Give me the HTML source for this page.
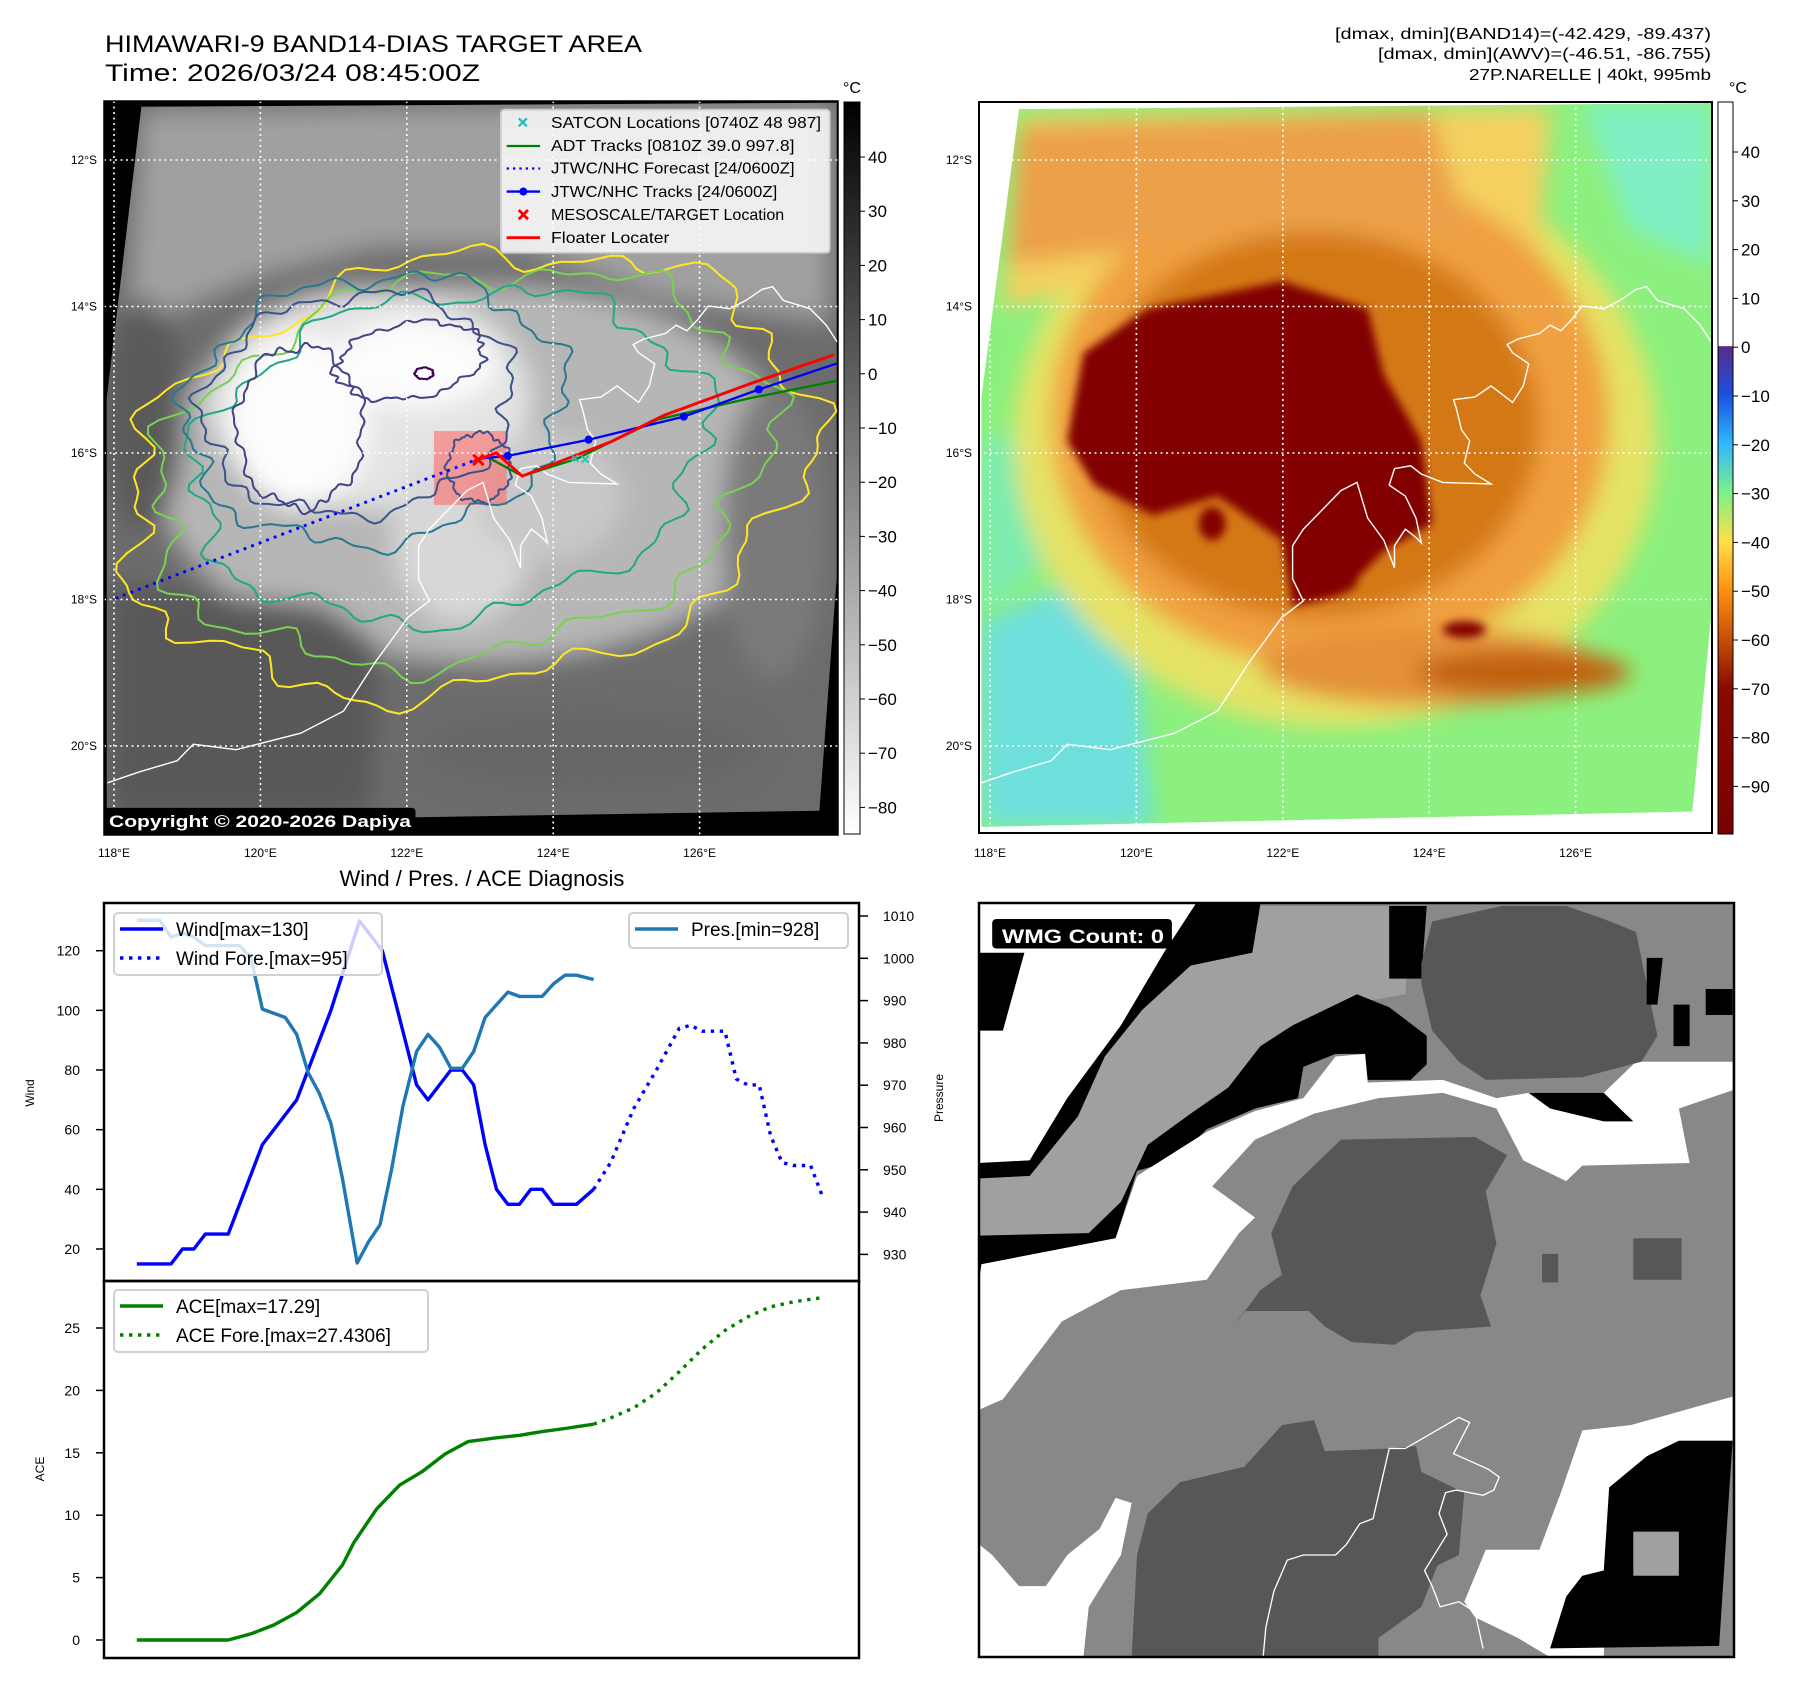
<!DOCTYPE html>
<html><head><meta charset="utf-8">
<style>
html,body{margin:0;padding:0;background:#fff;}
svg{display:block;font-family:"Liberation Sans","DejaVu Sans",sans-serif;}
</style></head>
<body>
<svg id="root" width="1797" height="1690" viewBox="0 0 1797 1690" xmlns="http://www.w3.org/2000/svg">
<defs>
  <filter id="blurL" x="-20%" y="-20%" width="140%" height="140%"><feGaussianBlur stdDeviation="22"/></filter>
  <filter id="blurR" x="-20%" y="-20%" width="140%" height="140%"><feGaussianBlur stdDeviation="20"/></filter>
  <filter id="blurS" x="-20%" y="-20%" width="140%" height="140%"><feGaussianBlur stdDeviation="8"/></filter>
  <clipPath id="clipL"><rect x="180" y="175" width="1272" height="1272"/></clipPath>
  <clipPath id="clipLimg"><polygon points="245,185 1450,178 1450,1000 1420,1405 185,1425 185,690"/></clipPath>
  <clipPath id="clipR"><rect x="36" y="185" width="1364" height="1326"/></clipPath>
  <clipPath id="clipRimg"><polygon points="110,198 1400,187 1400,1120 1365,1472 40,1500 40,720"/></clipPath>
  <clipPath id="clipBR"><rect x="36" y="45" width="1406" height="1452"/></clipPath>
  <clipPath id="clipLcoast"><rect x="104" y="101" width="734" height="734"/></clipPath>
  <linearGradient id="cbGray" x1="0" y1="0" x2="0" y2="1">
    <stop offset="0" stop-color="#000"/><stop offset="1" stop-color="#fff"/>
  </linearGradient>
  <linearGradient id="cbColor" x1="0" y1="0" x2="0" y2="1">
    <stop offset="0" stop-color="#ffffff"/>
    <stop offset="0.333" stop-color="#ffffff"/>
    <stop offset="0.334" stop-color="#5a2a8a"/>
    <stop offset="0.40" stop-color="#1a50e0"/>
    <stop offset="0.467" stop-color="#30b8ff"/>
    <stop offset="0.533" stop-color="#7cf08a"/>
    <stop offset="0.60" stop-color="#ffe048"/>
    <stop offset="0.667" stop-color="#ff9010"/>
    <stop offset="0.733" stop-color="#c85008"/>
    <stop offset="0.80" stop-color="#8a0a00"/>
    <stop offset="1" stop-color="#7a0000"/>
  </linearGradient>
</defs>

<!-- ============ TITLES ============ -->
<text x="105" y="52" font-size="24" fill="#000" textLength="537" lengthAdjust="spacingAndGlyphs">HIMAWARI-9 BAND14-DIAS TARGET AREA</text>
<text x="105" y="81" font-size="24" fill="#000" textLength="375" lengthAdjust="spacingAndGlyphs">Time: 2026/03/24 08:45:00Z</text>
<g font-size="16" fill="#000" text-anchor="end">
  <text x="1711" y="39" textLength="376" lengthAdjust="spacingAndGlyphs">[dmax, dmin](BAND14)=(-42.429, -89.437)</text>
  <text x="1711" y="59" textLength="333" lengthAdjust="spacingAndGlyphs">[dmax, dmin](AWV)=(-46.51, -86.755)</text>
  <text x="1711" y="80" textLength="242" lengthAdjust="spacingAndGlyphs">27P.NARELLE | 40kt, 995mb</text>
</g>

<!-- ============ LEFT MAP (zoom1 coords) ============ -->
<g id="leftMap" transform="scale(0.57703)">
  <g clip-path="url(#clipL)">
    <rect x="180" y="175" width="1272" height="1272" fill="#000"/>
    <polygon points="245,185 1450,178 1450,1000 1420,1405 185,1425 185,690" fill="#6c6c6c"/>
    <g clip-path="url(#clipLimg)">
    <g filter="url(#blurL)">
      <polygon points="245,190 1440,182 1440,560 1150,520 900,430 650,430 450,480 260,560 215,640" fill="#a0a0a0"/>
      <ellipse cx="830" cy="820" rx="560" ry="330" fill="#b6b6b6"/>
      <ellipse cx="250" cy="720" rx="70" ry="200" fill="#5a5a5a"/>
      <polygon points="190,1010 560,1050 660,1120 640,1410 190,1420" fill="#585858"/>
      <ellipse cx="1020" cy="1300" rx="300" ry="70" fill="#666"/>
      <ellipse cx="1340" cy="920" rx="90" ry="260" fill="#7a7a7a"/>
      <ellipse cx="640" cy="690" rx="280" ry="190" fill="#e4e4e4"/>
      <ellipse cx="800" cy="930" rx="120" ry="150" fill="#d8d8d8"/>
      <ellipse cx="950" cy="860" rx="130" ry="110" fill="#c8c8c8"/>
      <ellipse cx="520" cy="730" rx="120" ry="150" fill="#fdfdfd"/>
      <ellipse cx="720" cy="630" rx="140" ry="75" fill="#fdfdfd"/>
    </g>
    </g>
    <polygon points="752,747 878,747 878,875 752,875" fill="#ff6a6a" fill-opacity="0.6"/>
    <g id="contoursL" fill="none" stroke-width="3.5"></g>
  </g>
</g>
<g id="coastL" clip-path="url(#clipLcoast)"></g>
<g id="gridL"></g>
<g transform="scale(0.57703)">
  <g clip-path="url(#clipL)">
    <polyline points="200,1037 830,795" fill="none" stroke="#0000ff" stroke-width="5" stroke-dasharray="5 9"/>
    <polyline points="850,795 905,825 1000,795 1050,770 1140,727 1300,690 1450,660" fill="none" stroke="#008000" stroke-width="4"/>
    <polyline points="830,795 880,790 1020,762 1185,722 1315,675 1450,630" fill="none" stroke="#0000ff" stroke-width="4"/>
    <g fill="#0000ff"><circle cx="880" cy="790" r="7"/><circle cx="1020" cy="762" r="7"/><circle cx="1185" cy="722" r="7"/><circle cx="1315" cy="675" r="7"/></g>
    <polyline points="820,800 860,785 905,825 1060,765 1150,720 1300,665 1445,615" fill="none" stroke="#ff0000" stroke-width="5"/>
    <g stroke="#20c0c0" stroke-width="3"><path d="M990,788 l12,12 M1002,788 l-12,12 M1008,790 l12,12 M1020,790 l-12,12"/></g>
    <path d="M820,788 l18,18 M838,788 l-18,18" stroke="#ff0000" stroke-width="5"/>
    <rect x="180" y="1400" width="540" height="47" fill="#000" rx="6"/>
  </g>
  <g>
    <rect x="868" y="190" width="570" height="248" fill="#ffffff" fill-opacity="0.82" stroke="#cccccc" stroke-width="3" rx="6"/>
    <path d="M899,205 l14,14 M913,205 l-14,14" stroke="#20c0c0" stroke-width="4"/>
    <line x1="878" y1="253" x2="936" y2="253" stroke="#008000" stroke-width="4"/>
    <line x1="878" y1="292" x2="936" y2="292" stroke="#0000ff" stroke-width="4" stroke-dasharray="4 7"/>
    <line x1="878" y1="332" x2="936" y2="332" stroke="#0000ff" stroke-width="4"/><circle cx="907" cy="332" r="7" fill="#0000ff"/>
    <path d="M899,364 l16,16 M915,364 l-16,16" stroke="#ff0000" stroke-width="5"/>
    <line x1="878" y1="412" x2="936" y2="412" stroke="#ff0000" stroke-width="5"/>
    <g font-size="27" fill="#000">
      <text x="955" y="222" textLength="468" lengthAdjust="spacingAndGlyphs">SATCON Locations [0740Z 48 987]</text>
      <text x="955" y="262" textLength="422" lengthAdjust="spacingAndGlyphs">ADT Tracks [0810Z 39.0 997.8]</text>
      <text x="955" y="301" textLength="422" lengthAdjust="spacingAndGlyphs">JTWC/NHC Forecast [24/0600Z]</text>
      <text x="955" y="341" textLength="392" lengthAdjust="spacingAndGlyphs">JTWC/NHC Tracks [24/0600Z]</text>
      <text x="955" y="381" textLength="404" lengthAdjust="spacingAndGlyphs">MESOSCALE/TARGET Location</text>
      <text x="955" y="421" textLength="205" lengthAdjust="spacingAndGlyphs">Floater Locater</text>
    </g>
  </g>
</g>
<text x="109" y="827" font-size="17" font-weight="bold" fill="#fff" textLength="302" lengthAdjust="spacingAndGlyphs">Copyright © 2020-2026 Dapiya</text>
<rect x="104" y="101" width="734" height="734" fill="none" stroke="#000" stroke-width="1.5"/>
<rect x="844" y="102" width="16" height="732" fill="url(#cbGray)" stroke="#000" stroke-width="1"/>
<text x="852" y="93" font-size="16" text-anchor="middle">°C</text>
<g id="cbLticks" font-size="17"></g>

<!-- ============ RIGHT MAP (zoom3 coords) ============ -->
<g transform="translate(960,0) scale(0.53648,0.55127)">
  <g clip-path="url(#clipR)">
    <rect x="36" y="185" width="1364" height="1326" fill="#fff"/>
    <polygon points="110,198 1400,187 1400,1120 1365,1472 40,1500 40,720" fill="#8cf07e"/>
    <g clip-path="url(#clipRimg)">
    <g filter="url(#blurR)">
      <polygon points="40,1130 200,1060 330,1200 360,1500 40,1500" fill="#6ee0dc"/>
      <polygon points="40,800 120,780 180,1000 60,1100 40,1100" fill="#7cecb0"/>
      <polygon points="1160,190 1400,190 1400,480 1250,420" fill="#80f0c4"/>
      <ellipse cx="700" cy="800" rx="600" ry="520" fill="#f4e060" fill-opacity="0.85"/>
      <polygon points="110,210 1100,195 1080,480 600,430 80,560" fill="#f4d060"/>
      <ellipse cx="690" cy="760" rx="520" ry="450" fill="#f0a040"/>
      <polygon points="110,230 880,205 950,430 600,420 90,480" fill="#eca048"/>
      <ellipse cx="880" cy="1210" rx="320" ry="70" fill="#e49038"/>
      <ellipse cx="660" cy="770" rx="420" ry="350" fill="#d47818"/>
      <ellipse cx="1050" cy="1220" rx="200" ry="40" fill="#c06010"/>
    </g>
    <g filter="url(#blurS)" fill="#820000">
      <polygon points="230,640 350,560 600,510 760,560 790,680 860,800 880,950 790,1000 710,1080 620,1100 600,980 480,900 360,935 250,880 200,800"/>
      <ellipse cx="940" cy="1142" rx="40" ry="15"/>
      <ellipse cx="710" cy="1055" rx="30" ry="20"/>
      <ellipse cx="470" cy="950" rx="25" ry="30"/>
    </g>
    </g>
  </g>
</g>
<g id="coastR"></g>
<g id="gridR"></g>
<rect x="979" y="102" width="733" height="731" fill="none" stroke="#000" stroke-width="2"/>
<rect x="1718" y="102" width="15" height="732" fill="url(#cbColor)" stroke="#000" stroke-width="1"/>
<text x="1738" y="93" font-size="16" text-anchor="middle">°C</text>
<g id="cbRticks" font-size="17"></g>

<!-- ============ BOTTOM RIGHT (zoom4 coords) ============ -->
<g transform="translate(960,880) scale(0.53648,0.51921)">
  <g clip-path="url(#clipBR)">
    <rect x="36" y="45" width="1406" height="1452" fill="#888888"/>
    <polygon points="36,45 440,45 380,140 300,280 200,420 130,540 36,545" fill="#fff"/>
    <polygon points="36,140 120,140 80,290 36,290" fill="#000"/>
    <polygon points="36,545 130,540 200,420 300,280 380,140 440,45 560,45 545,140 430,165 340,250 270,340 220,455 130,570 36,575" fill="#000"/>
    <polygon points="36,575 130,570 220,455 270,340 340,250 430,165 545,140 560,50 840,50 830,220 720,240 620,280 560,320 500,400 430,450 350,510 300,620 240,680 36,685" fill="#a0a0a0"/>
    <polygon points="36,685 240,680 300,620 350,510 430,450 500,400 560,320 620,280 740,220 800,245 870,300 870,355 840,385 760,385 755,335 700,335 640,360 630,420 550,440 460,480 400,540 330,560 290,690 40,740 36,770" fill="#000"/>
    <polygon points="36,770 40,740 290,690 330,570 460,485 550,445 640,420 700,340 755,335 760,390 900,385 1000,420 1060,410 1200,410 1260,350 1440,350 1440,405 1340,440 1360,545 1160,550 1130,580 1050,540 1000,440 900,410 780,420 660,450 550,500 470,590 550,650 520,680 460,770 300,790 190,850 80,1000 36,1020" fill="#fff"/>
    <polygon points="1060,410 1200,410 1230,440 1255,465 1200,465 1100,440" fill="#000"/>
    <polygon points="800,50 870,50 860,190 800,190" fill="#000"/>
    <polygon points="880,80 1010,50 1130,50 1200,75 1260,100 1300,300 1270,350 1160,380 980,385 930,350 880,290 860,200 860,160" fill="#575757"/>
    <polygon points="1280,150 1310,150 1300,240 1280,240" fill="#000"/>
    <polygon points="1390,210 1440,210 1440,260 1390,260" fill="#000"/>
    <polygon points="1330,240 1360,240 1360,320 1330,320" fill="#000"/>
    <polygon points="710,500 960,495 1020,530 980,600 1000,700 970,800 990,860 850,870 810,895 730,890 680,860 650,830 530,830 510,860 560,790 600,760 580,680 620,590 650,560 680,530" fill="#575757"/>
    <polygon points="1255,690 1345,690 1345,770 1255,770" fill="#575757"/>
    <polygon points="1085,720 1115,720 1115,775 1085,775" fill="#575757"/>
    <polygon points="410,1160 530,1130 600,1050 660,1040 680,1100 800,1095 850,1090 860,1140 940,1180 930,1300 890,1320 860,1400 780,1460 780,1497 320,1497 330,1300 350,1220" fill="#575757"/>
    <polygon points="36,1280 60,1300 110,1360 160,1360 200,1300 260,1250 290,1190 320,1200 300,1300 240,1400 230,1497 36,1497" fill="#fff"/>
    <polygon points="1440,995 1250,1050 1160,1060 1120,1180 1080,1290 980,1290 940,1390 960,1420 1040,1460 1100,1497 1200,1497 1210,1170 1280,1110 1340,1080 1440,1080" fill="#fff"/>
    <polygon points="1210,1170 1280,1110 1340,1080 1440,1080 1415,1475 1100,1480 1130,1380 1160,1340 1200,1330" fill="#000"/>
    <polygon points="1255,1255 1340,1255 1340,1340 1255,1340" fill="#a0a0a0"/>
    <path d="M565,1497 570,1440 585,1370 610,1310 640,1300 700,1300 720,1280 745,1240 770,1230 800,1095 830,1095 930,1035 950,1045 920,1105 985,1135 1005,1150 995,1175 975,1185 925,1175 905,1180 893,1220 908,1260 866,1330 880,1360 895,1400 930,1390 960,1410 975,1480" fill="none" stroke="#fff" stroke-width="2.5"/>
    <rect x="60" y="75" width="335" height="57" rx="8" fill="#000"/>
  </g>
</g>
<text x="1002" y="943" font-size="19" font-weight="bold" fill="#fff" textLength="162" lengthAdjust="spacingAndGlyphs">WMG Count: 0</text>
<rect x="979" y="903" width="755" height="754" fill="none" stroke="#000" stroke-width="2.5"/>

<!-- ============ CHARTS ============ -->
<text x="482" y="886" font-size="22" text-anchor="middle">Wind / Pres. / ACE Diagnosis</text>
<g id="charts"></g>
</svg>

<script>
const windT = [0,3,4,5,6,8,11,14,15,17,19.5,21.5,23.5,24.5,25.5,27.5,28.5,29.5,30.5,31.5,32.5,33.5,34.5,35.5,36.5,38.5,40];
const windV = [15,15,20,20,25,25,55,70,80,100,130,120,90,75,70,80,80,75,55,40,35,35,40,40,35,35,40];
const windForeT = [40,41.5,43.5,45.5,47.5,48.5,49.5,51.5,52.5,53.5,54.5,55.5,56.5,57.5,59,60];
const windForeV = [40,49,67,80,94,95,93,93,77,75,75,58,49,48,48,38];
const presT = [0,2,3,4,5,6,9,10,11,13,14,15,16,17,18,19.3,20.3,21.3,22.3,23.3,24.5,25.5,26.5,27.5,28.5,29.5,30.5,31.5,32.5,33.5,35.5,36.5,37.5,38.5,40];
const presV = [1009,1009,1005,1006,1005,1003,1003,1000,988,986,982,973,968,961,948,928,933,937,950,965,978,982,979,974,974,978,986,989,992,991,991,994,996,996,995];
const aceT = [0,8,10,12,14,16,18,19,21,23,25,27,29,31.5,33.5,35.5,37.5,40];
const aceV = [0,0,0.5,1.2,2.2,3.7,6,7.8,10.5,12.4,13.5,14.9,15.9,16.2,16.4,16.7,16.95,17.29];
const aceForeT = [40,41.5,43.5,45.5,47.5,49.5,51.5,53.5,55.5,57.5,60];
const aceForeV = [17.29,17.8,18.6,19.8,21.5,23.3,24.8,25.9,26.7,27.1,27.43];
const windTicks = [20,40,60,80,100,120];
const presTicks = [930,940,950,960,970,980,990,1000,1010];
const aceTicks = [0,5,10,15,20,25];
const cbLTicks = [40,30,20,10,0,-10,-20,-30,-40,-50,-60,-70,-80];
const cbRTicks = [40,30,20,10,0,-10,-20,-30,-40,-50,-60,-70,-80,-90];
const latLabels = ["12°S","14°S","16°S","18°S","20°S"];
const lonLabels = ["118°E","120°E","122°E","124°E","126°E"];

const NS = "http://www.w3.org/2000/svg";
function mk(tag, attrs, parent){ const e=document.createElementNS(NS,tag); for(const k in attrs) e.setAttribute(k,attrs[k]); if(parent) parent.appendChild(e); return e; }

const xT = t => 136.8 + t*11.42;
const yWind = v => 950.7 + (120 - v)*2.983;
const yPres = p => 916 + (1010 - p)*4.23;
const yAce = a => 1640 - a*12.48;

const charts = document.getElementById('charts');
function line(ts, vs, yf, color, dash, name){
  const pts = ts.map((t,i)=> xT(t).toFixed(1)+','+yf(vs[i]).toFixed(1)).join(' ');
  const p = mk('polyline',{points:pts,fill:'none',stroke:color,'stroke-width':3.4,'stroke-linejoin':'round'},charts);
  if(dash) p.setAttribute('stroke-dasharray',dash);
  
  
}
const f1 = mk('rect',{x:104,y:903,width:755,height:378,fill:'none',stroke:'#000','stroke-width':2.5},charts);


const f2 = mk('rect',{x:104,y:1281,width:755,height:377,fill:'none',stroke:'#000','stroke-width':2.5},charts);



line(windT, windV, yWind, '#0000ff', null, 'wind-line');
line(windForeT, windForeV, yWind, '#0000ff', '3.4 5.6', 'wind-forecast-line');
line(presT, presV, yPres, '#1f77b4', null, 'pressure-line');
line(aceT, aceV, yAce, '#008000', null, 'ace-line');
line(aceForeT, aceForeV, yAce, '#008000', '3.4 5.6', 'ace-forecast-line');

function tickY(vals, yf, side, name){
  vals.forEach(v=>{
    const y = yf(v);
    if(side==='L'){
      mk('line',{x1:96,y1:y,x2:104,y2:y,stroke:'#000','stroke-width':1.5},charts);
      const t = mk('text',{x:80,y:y+5,'font-size':14,'text-anchor':'end'},charts);
      t.textContent = v;
      
      
    } else {
      mk('line',{x1:859,y1:y,x2:868,y2:y,stroke:'#000','stroke-width':1.5},charts);
      const t = mk('text',{x:883,y:y+5,'font-size':14},charts);
      t.textContent = v;
      
      
    }
  });
}
tickY(windTicks, yWind, 'L', 'wind-tick-label');
tickY(presTicks, yPres, 'R', 'pressure-tick-label');
tickY(aceTicks, yAce, 'L', 'ace-tick-label');

function rotLabel(txt,x,y,name){
  const t = mk('text',{x:x,y:y,'font-size':12,'text-anchor':'middle',transform:`rotate(-90 ${x} ${y})`},charts);
  t.textContent = txt;
  
  
}
rotLabel('Wind',34,1093,'wind-axis-title');
rotLabel('Pressure',943,1098,'pressure-axis-title');
rotLabel('ACE',44,1469,'ace-axis-title');

function legend(x,y,w,h,entries,name){
  const g = mk('g',{},charts);
  
  
  mk('rect',{x:x,y:y,width:w,height:h,rx:4,fill:'#fff','fill-opacity':0.8,stroke:'#d0d0d0','stroke-width':2},g);
  entries.forEach(e=>{
    const l = mk('line',{x1:e.hx,y1:e.y,x2:e.hx+43,y2:e.y,stroke:e.c,'stroke-width':3.4},g);
    if(e.dash) l.setAttribute('stroke-dasharray',e.dash);
    const t = mk('text',{x:e.tx,y:e.y+7,'font-size':19},g);
    t.textContent = e.txt;
  });
}
legend(114,913,268,62,[{hx:120,y:929,c:'#0000ff',tx:176,txt:'Wind[max=130]'},{hx:120,y:958,c:'#0000ff',dash:'3.4 5.6',tx:176,txt:'Wind Fore.[max=95]'}],'wind-legend');
legend(629,913,219,35,[{hx:635,y:929,c:'#1f77b4',tx:691,txt:'Pres.[min=928]'}],'pressure-legend');
legend(114,1290,314,62,[{hx:120,y:1306,c:'#008000',tx:176,txt:'ACE[max=17.29]'},{hx:120,y:1335,c:'#008000',dash:'3.4 5.6',tx:176,txt:'ACE Fore.[max=27.4306]'}],'ace-legend');

const cbL = document.getElementById('cbLticks');
cbLTicks.forEach(v=>{
  const y = 157 + (40 - v)*5.42;
  mk('line',{x1:860,y1:y,x2:865,y2:y,stroke:'#000','stroke-width':1},cbL);
  const t = mk('text',{x:868,y:y+6},cbL);
  t.textContent = v<0 ? '\u2212'+(-v) : v;
  
  
});
const cbR = document.getElementById('cbRticks');
cbRTicks.forEach(v=>{
  const y = 152 + (40 - v)*4.88;
  mk('line',{x1:1733,y1:y,x2:1738,y2:y,stroke:'#000','stroke-width':1},cbR);
  const t = mk('text',{x:1741,y:y+6},cbR);
  t.textContent = v<0 ? '\u2212'+(-v) : v;
  
  
});

function grid(gid, x0, y0, x1, y1, lonStart, name){
  const g = document.getElementById(gid);
  for(let i=0;i<5;i++){
    const x = lonStart + i*146.4;
    const y = 160 + i*146.5;
    if(x>x0 && x<x1) mk('line',{x1:x,y1:y0,x2:x,y2:y1,stroke:'#fff','stroke-width':1.6,'stroke-dasharray':'2 3.5'},g);
    mk('line',{x1:x0,y1:y,x2:x1,y2:y,stroke:'#fff','stroke-width':1.6,'stroke-dasharray':'2 3.5'},g);
    const lt = mk('text',{x:x0-7,y:y+4,'font-size':12,'text-anchor':'end'},g);
    lt.textContent = latLabels[i];
    
    
    const ot = mk('text',{x:x,y:857,'font-size':12,'text-anchor':'middle'},g);
    ot.textContent = lonLabels[i];
    
    
  }
}
grid('gridL',104,101,838,835,114,'left-map');
grid('gridR',979,102,1712,833,990,'right-map');

const coastZ = [[40,1420],[100,1400],[170,1380],[200,1350],[280,1360],[400,1330],[480,1290],[540,1200],[570,1160],[600,1120],[640,1090],[620,1050],[620,990],[640,960],[680,920],[710,890],[740,875],[760,940],[790,980],[810,1030],[810,990],[830,960],[850,975],[860,985],[850,940],[830,900],[800,880],[810,850],[840,845],[860,860],[900,875],[990,878],[960,860],[940,840],[950,800],[935,780],[925,740],[920,725],[960,720],[990,700],[1030,730],[1050,700],[1060,660],[1030,640],[1020,625],[1040,615],[1080,605],[1100,590],[1120,600],[1140,580],[1160,555],[1200,560],[1230,545],[1260,525],[1280,520],[1300,545],[1350,560],[1380,590],[1400,620]];
function coast(gid, dx, name){
  const d = coastZ.map((p,i)=>(i?'L':'M')+(960+p[0]/1.864+dx).toFixed(1)+','+(p[1]/1.814).toFixed(1)).join(' ');
  const p = mk('path',{d:d,fill:'none',stroke:'#fff','stroke-width':1.4},document.getElementById(gid));
  
  
}
coast('coastL',-874,'left-coastline');
coast('coastR',0,'right-coastline');

const contours = [
  {cx:810,cy:820,rx:600,ry:370,rot:-12,c:'#fde725',ph:0.3},
  {cx:800,cy:810,rx:540,ry:330,rot:-12,c:'#7ad151',ph:1.1},
  {cx:780,cy:790,rx:450,ry:280,rot:-10,c:'#22a884',ph:2.0},
  {cx:650,cy:710,rx:330,ry:230,rot:-8,c:'#2a788e',ph:2.7},
  {cx:620,cy:700,rx:270,ry:190,rot:-8,c:'#3b528b',ph:3.3},
  {cx:520,cy:740,rx:110,ry:140,rot:0,c:'#414487',ph:4.0},
  {cx:710,cy:625,rx:130,ry:65,rot:-10,c:'#414487',ph:4.6},
  {cx:830,cy:810,rx:55,ry:60,rot:0,c:'#3b528b',ph:5.1},
  {cx:735,cy:647,rx:16,ry:10,rot:0,c:'#440154',ph:5.5}
];
const cg = document.getElementById('contoursL');
contours.forEach(o=>{
  let d='';
  const r = o.rot*Math.PI/180;
  for(let k=0;k<=180;k++){
    const th = k/180*2*Math.PI;
    const w = 1 + 0.05*Math.sin(7*th+o.ph) + 0.035*Math.sin(17*th+2*o.ph) + 0.02*Math.sin(31*th+o.ph);
    const ex = o.rx*w*Math.cos(th), ey = o.ry*w*Math.sin(th);
    const x = o.cx + ex*Math.cos(r) - ey*Math.sin(r);
    const y = o.cy + ex*Math.sin(r) + ey*Math.cos(r);
    d += (k?'L':'M')+x.toFixed(1)+','+y.toFixed(1);
  }
  const p = mk('path',{d:d+'Z',stroke:o.c},cg);
  
  
});
</script>
</body></html>
